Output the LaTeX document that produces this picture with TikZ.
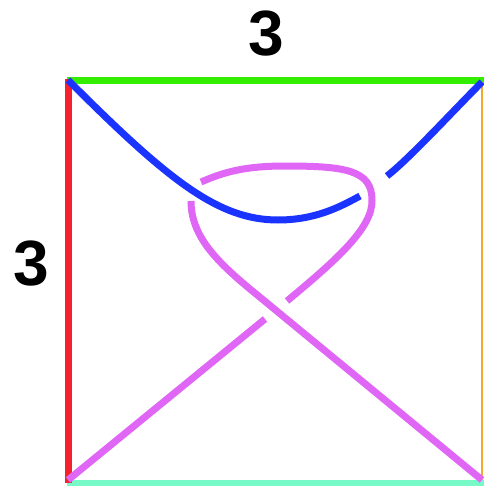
\documentclass[tikz,border=0pt]{standalone}
\usepackage{fontspec}
\setmainfont{Liberation Sans}
\usepackage{xcolor}
\usepackage{tikz}
\definecolor{KnRed}{HTML}{F5222D}
\definecolor{KnGreen}{HTML}{33EE00}
\definecolor{KnOrange}{HTML}{F0AA32}
\definecolor{KnAqua}{HTML}{78FAC8}
\definecolor{KnBlue}{HTML}{1A33FF}
\definecolor{KnPink}{HTML}{E066F5}
\colorlet{KnLeft}{KnRed}
\colorlet{KnTop}{KnGreen}

\begin{document}
\begin{tikzpicture}[x=1pt, y=-1pt,
    edge/.style={line width=7pt},
    strand/.style={line width=7pt},
    size/.style={font=\bfseries\fontsize{64}{64}\selectfont, inner sep=0pt}]
  \useasboundingbox (0,0) rectangle (483,486);
  \coordinate (nwTop) at (67,81);
  \coordinate (neTop) at (490,81);
  \coordinate (swBot) at (67,483.5);
  \coordinate (seBot) at (490,483.5);
  \coordinate (nwLeft) at (68.5,79);
  \coordinate (swLeft) at (68.5,483);
  \coordinate (neRight) at (482,82);
  \coordinate (seRight) at (482,480);
  \draw[edge, KnTop] (nwTop) -- (neTop);
  \draw[edge, KnAqua] (swBot) -- (seBot);
  \draw[line width=2.5pt, KnOrange] (neRight) -- (seRight);
  \draw[edge, KnLeft] (nwLeft) -- (swLeft);
  \node[size] (topsize) at (266,34) {3};
  \node[size] (leftsize) at (31,264) {3};

  \coordinate (blueStart) at (68,80);
  \coordinate (blueLow) at (278,220);
  \coordinate (blueCutA) at (360,196);
  \coordinate (blueCutB) at (387,176);
  \coordinate (blueEnd) at (482,82);
  \draw[strand, KnBlue] (blueStart) .. controls (168,180) and (218,220) .. (blueLow)
    .. controls (315,220) and (340,207) .. (blueCutA);
  \draw[strand, KnBlue] (blueCutB) .. controls (410,158) and (452,112) .. (blueEnd);

  \coordinate (pinkSW) at (68,480);
  \coordinate (pinkCutA) at (265,319);
  \coordinate (pinkCutB) at (287,301);
  \coordinate (pinkRight) at (372,200);
  \coordinate (pinkTop) at (285,166);
  \coordinate (pinkCutC) at (201,182);
  \coordinate (pinkCutD) at (191,201);
  \coordinate (pinkBend) at (250,289);
  \coordinate (pinkSE) at (482,480);
  \draw[strand, KnPink] (pinkSW) -- (pinkCutA);
  \draw[strand, KnPink] (pinkCutB) .. controls (335,261) and (373,228) .. (pinkRight)
    .. controls (372,170) and (345,166) .. (pinkTop)
    .. controls (240,166) and (220,174) .. (pinkCutC);
  \draw[strand, KnPink] (pinkCutD) .. controls (191,235) and (215,260) .. (pinkBend)
    -- (pinkSE);
\end{tikzpicture}
\end{document}
